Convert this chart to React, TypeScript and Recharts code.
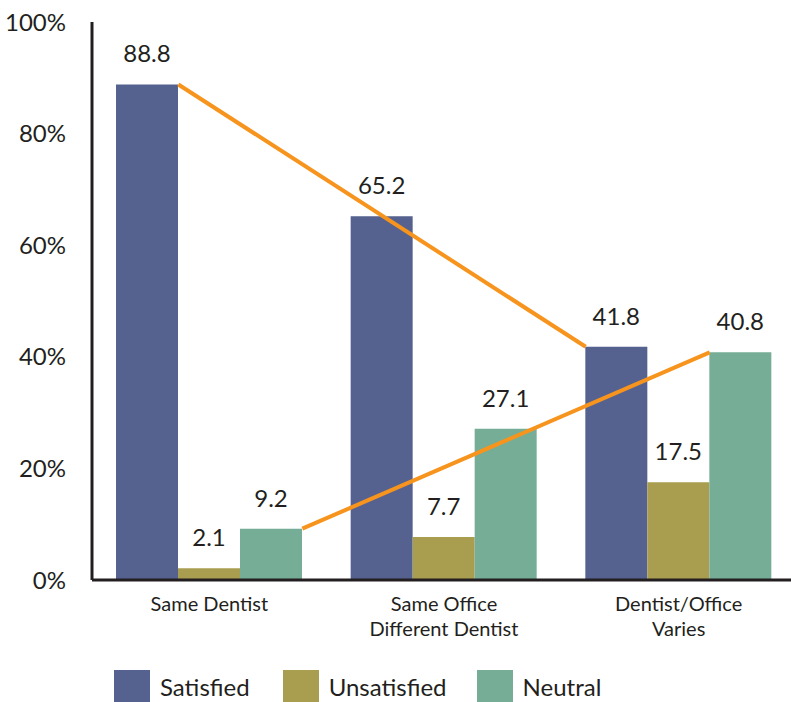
import React from "react";
import { BarChart, Bar, XAxis, YAxis, LabelList, Legend, ReferenceLine } from "recharts";

const categories = ["Same Dentist", "Same Office\nDifferent Dentist", "Dentist/Office\nVaries"];
const satisfied = [88.8, 65.2, 41.8];
const unsatisfied = [2.1, 7.7, 17.5];
const neutral = [9.2, 27.1, 40.8];
const yTicks = [0, 20, 40, 60, 80, 100];

const seriesMeta = [
  { key: "satisfied", name: "Satisfied", color: "#55618f" },
  { key: "unsatisfied", name: "Unsatisfied", color: "#a99e4f" },
  { key: "neutral", name: "Neutral", color: "#76ad96" },
];

const data = categories.map((c, i) => ({
  category: c,
  pos: i + 0.5,
  satisfied: satisfied[i],
  unsatisfied: unsatisfied[i],
  neutral: neutral[i],
}));

const FONT = "Lato, 'Open Sans', sans-serif";
const TEXT = "#231f20";
const CHART_W = 800;
const MARGIN = { top: 22, right: 4, left: 0, bottom: 0 };
const Y_W = 92;
const BAR = 62;
const plotW = CHART_W - MARGIN.left - MARGIN.right - Y_W;
const catW = plotW / categories.length;
const barFrac = BAR / catW;
const groupHalf = (BAR * seriesMeta.length) / 2 / catW;
// numeric positions (in category units) of bar edges
const satRight = (i: number) => i + 0.5 - groupHalf + barFrac;
const neuLeft = (i: number) => i + 0.5 + groupHalf - barFrac;
const neuRight = (i: number) => i + 0.5 + groupHalf;
const satLeft = (i: number) => i + 0.5 - groupHalf;

const CatTick = (props: any) => {
  const { x, y, payload } = props;
  const lines = String(payload.value).split("\n");
  return (
    <text x={x} y={y} textAnchor="middle" fill={TEXT} fontSize={20} fontFamily={FONT}>
      {lines.map((l, k) => (
        <tspan key={k} x={x} dy={k === 0 ? 23 : 25}>{l}</tspan>
      ))}
    </text>
  );
};

const LegendContent = () => (
  <div style={{ display: "flex", alignItems: "center", fontFamily: FONT, fontSize: 24, color: TEXT }}>
    {seriesMeta.map((s, i) => (
      <div key={s.key} style={{ display: "flex", alignItems: "center", marginRight: i === 0 ? 33 : 30 }}>
        <div style={{ width: 36, height: 32, background: s.color, marginRight: 10 }} />
        <span>{s.name}</span>
      </div>
    ))}
  </div>
);

export default function App() {
  return (
    <div style={{ position: "absolute", left: 0, top: 0, width: 791, height: 702, overflow: "hidden", background: "#fff" }}>
      <BarChart width={CHART_W} height={702} data={data} margin={MARGIN} barGap={0} barSize={BAR}>
        <XAxis
          dataKey="category"
          axisLine={{ stroke: TEXT, strokeWidth: 3 }}
          tickLine={false}
          tick={<CatTick />}
          height={90}
          interval={0}
        />
        <XAxis xAxisId="n" dataKey="pos" type="number" domain={[0, 3]} hide allowDataOverflow />
        <YAxis
          domain={[0, 100]}
          ticks={yTicks}
          tickFormatter={(v: number) => `${v}%`}
          axisLine={{ stroke: TEXT, strokeWidth: 3 }}
          tickLine={false}
          tickMargin={20}
          width={Y_W}
          tick={{ fill: TEXT, fontSize: 24, fontFamily: FONT }}
          interval={0}
        />
        <Legend
          verticalAlign="bottom"
          content={<LegendContent />}
          wrapperStyle={{ left: 114, top: 670, height: 32, width: 600 }}
        />
        {seriesMeta.map((s) => (
          <Bar key={s.key} dataKey={s.key} name={s.name} fill={s.color} isAnimationActive={false}>
            <LabelList dataKey={s.key} position="top" offset={22} fill={TEXT} fontSize={24} fontFamily={FONT} />
          </Bar>
        ))}
        <ReferenceLine
          xAxisId="n"
          segment={[
            { x: satRight(0), y: satisfied[0] },
            { x: satLeft(2), y: satisfied[2] },
          ]}
          stroke="#f7941d"
          strokeWidth={4}
          ifOverflow="visible"
        />
        <ReferenceLine
          xAxisId="n"
          segment={[
            { x: neuRight(0), y: neutral[0] },
            { x: neuLeft(2), y: neutral[2] },
          ]}
          stroke="#f7941d"
          strokeWidth={4}
          ifOverflow="visible"
        />
      </BarChart>
    </div>
  );
}
